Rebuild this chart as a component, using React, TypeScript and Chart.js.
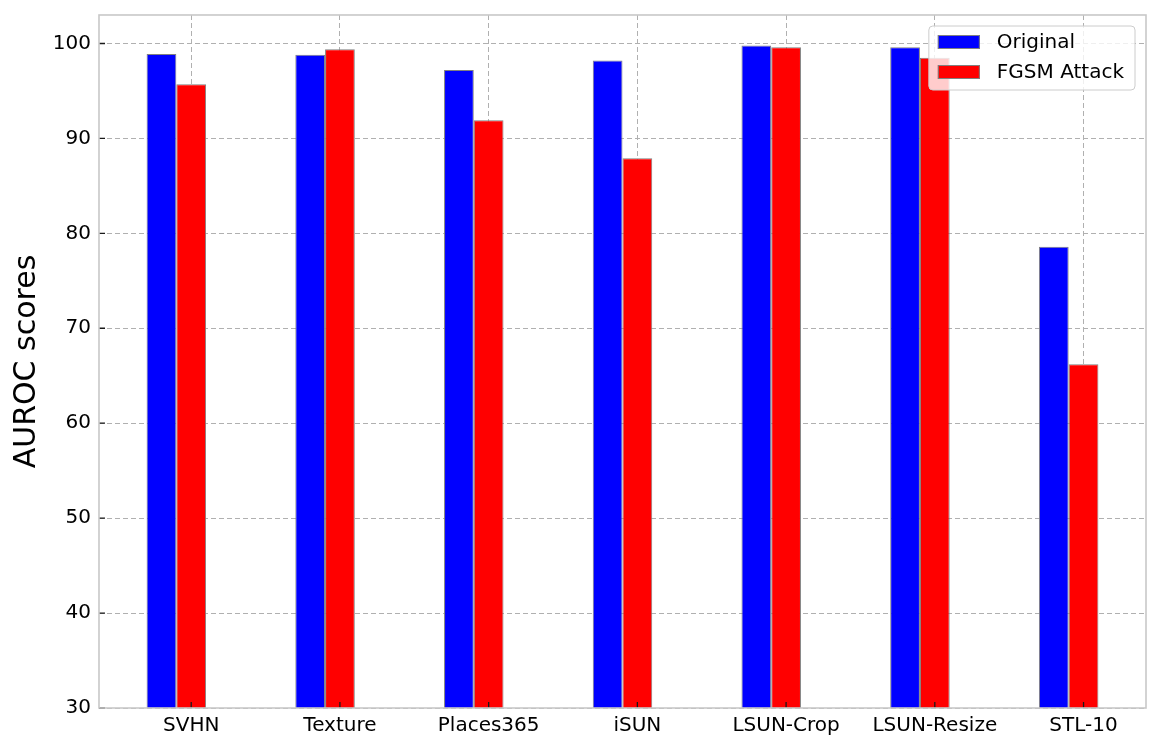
import React, { useEffect, useRef } from "react";
import { Chart, registerables } from "chart.js";

Chart.register(...registerables);

// ---- data ----
const categories = ["SVHN", "Texture", "Places365", "iSUN", "LSUN-Crop", "LSUN-Resize", "STL-10"];
const originalScores = [98.9, 98.8, 97.2, 98.2, 99.8, 99.6, 78.6];
const fgsmScores = [95.7, 99.4, 91.9, 87.9, 99.6, 98.5, 66.2];
const seriesLabels = ["Original", "FGSM Attack"];
const yTickValues = [30, 40, 50, 60, 70, 80, 90, 100];

const FONT = '"DejaVu Sans", "Liberation Sans", sans-serif';
const GROUP_SHIFT = 0.1; // bar group sits left of the tick (matplotlib x - width/2 layout)

const decorPlugin = {
  id: "decor",
  afterDraw(chart: any) {
    const ctx: CanvasRenderingContext2D = chart.ctx;
    const a = chart.chartArea;
    const xs = chart.scales.x;
    const ys = chart.scales.y;
    ctx.save();
    // inward tick marks
    ctx.strokeStyle = "#1a1a1a";
    ctx.lineWidth = 1.3;
    ctx.beginPath();
    ys.ticks.forEach((t: any) => {
      const p = ys.getPixelForValue(t.value);
      ctx.moveTo(a.left, p);
      ctx.lineTo(a.left + 6, p);
    });
    xs.ticks.forEach((t: any) => {
      const p = xs.getPixelForValue(t.value);
      ctx.moveTo(p, a.bottom);
      ctx.lineTo(p, a.bottom - 6);
    });
    ctx.stroke();
    // spines
    ctx.strokeStyle = "#c8c8c8";
    ctx.lineWidth = 1.6;
    ctx.strokeRect(a.left, a.top, a.right - a.left, a.bottom - a.top);

    // legend (upper right, inside axes)
    const ds = chart.data.datasets;
    ctx.font = `20px ${FONT}`;
    const textW = Math.max(...ds.map((d: any) => ctx.measureText(d.label).width));
    const padL = 9, handleW = 42, handleH = 14, gap = 17, padR = 11, rowH = 30;
    const w = padL + handleW + gap + textW + padR;
    const h = 9 + rowH * (ds.length - 1) + handleH + 11;
    const x0 = a.right - 11 - w;
    const y0 = a.top + 11;
    ctx.beginPath();
    const r = 4;
    ctx.moveTo(x0 + r, y0);
    ctx.arcTo(x0 + w, y0, x0 + w, y0 + h, r);
    ctx.arcTo(x0 + w, y0 + h, x0, y0 + h, r);
    ctx.arcTo(x0, y0 + h, x0, y0, r);
    ctx.arcTo(x0, y0, x0 + w, y0, r);
    ctx.closePath();
    ctx.fillStyle = "rgba(255,255,255,0.8)";
    ctx.fill();
    ctx.strokeStyle = "#cccccc";
    ctx.lineWidth = 1;
    ctx.stroke();
    ds.forEach((d: any, i: number) => {
      const py = y0 + 9 + i * rowH;
      ctx.fillStyle = d.backgroundColor;
      ctx.fillRect(x0 + padL, py, handleW, handleH);
      ctx.strokeStyle = d.borderColor;
      ctx.lineWidth = 1;
      ctx.strokeRect(x0 + padL + 0.5, py + 0.5, handleW - 1, handleH - 1);
      ctx.fillStyle = "#000";
      ctx.textBaseline = "middle";
      ctx.textAlign = "left";
      ctx.fillText(d.label, x0 + padL + handleW + gap, py + handleH / 2 + 1);
    });
    ctx.restore();
  },
};

export default function App() {
  const ref = useRef<HTMLCanvasElement>(null);
  useEffect(() => {
    document.body.style.margin = "0";
    const chart = new Chart(ref.current as HTMLCanvasElement, {
      type: "bar",
      data: {
        datasets: [
          {
            label: seriesLabels[0],
            data: originalScores.map((v, i) => ({ x: i - GROUP_SHIFT, y: v })),
            backgroundColor: "#0000ff",
            borderColor: "#808080",
            borderWidth: 1,
            borderSkipped: false,
            categoryPercentage: 0.4,
            barPercentage: 1.0,
          },
          {
            label: seriesLabels[1],
            data: fgsmScores.map((v, i) => ({ x: i - GROUP_SHIFT, y: v })),
            backgroundColor: "#ff0000",
            borderColor: "#808080",
            borderWidth: 1,
            borderSkipped: false,
            categoryPercentage: 0.4,
            barPercentage: 1.0,
          },
        ],
      } as any,
      options: {
        animation: false,
        responsive: false,
        maintainAspectRatio: false,
        devicePixelRatio: 1,
        layout: { padding: { top: 15, right: 14, left: 0, bottom: 0 } },
        plugins: {
          legend: { display: false },
          tooltip: { enabled: false },
        },
        scales: {
          x: {
            type: "linear",
            min: -0.62,
            max: 6.42,
            offset: false,
            z: 1,
            afterBuildTicks: (scale: any) => {
              scale.ticks = categories.map((_, i) => ({ value: i }));
            },
            afterFit: (scale: any) => {
              scale.height = 42;
              scale.paddingLeft = 0;
              scale.paddingRight = 0;
            },
            grid: { color: "#b0b0b0", lineWidth: 1, drawTicks: false, offset: false },
            border: { display: false, dash: [5, 3] },
            ticks: {
              autoSkip: false,
              maxRotation: 0,
              padding: 6,
              color: "#000",
              font: { family: FONT, size: 20 },
              callback: (v: any) => categories[v] ?? "",
            },
          },
          y: {
            type: "linear",
            min: 30,
            max: 103,
            z: 1,
            afterBuildTicks: (scale: any) => {
              scale.ticks = yTickValues.map((v) => ({ value: v }));
            },
            afterFit: (scale: any) => {
              scale.width = 99;
              scale.paddingTop = 0;
              scale.paddingBottom = 0;
            },
            grid: { color: "#b0b0b0", lineWidth: 1, drawTicks: false },
            border: { display: false, dash: [5, 3] },
            ticks: {
              padding: 8,
              color: "#000",
              font: { family: FONT, size: 20 },
            },
            title: {
              display: true,
              text: "AUROC scores",
              color: "#000",
              font: { family: FONT, size: 30, lineHeight: 1.2 },
              padding: { top: 9, bottom: 0 },
            },
          },
        },
      } as any,
      plugins: [decorPlugin],
    });
    return () => chart.destroy();
  }, []);
  return (
    <div style={{ width: 1160, height: 750 }}>
      <canvas ref={ref} width={1160} height={750} style={{ display: "block" }} />
    </div>
  );
}
